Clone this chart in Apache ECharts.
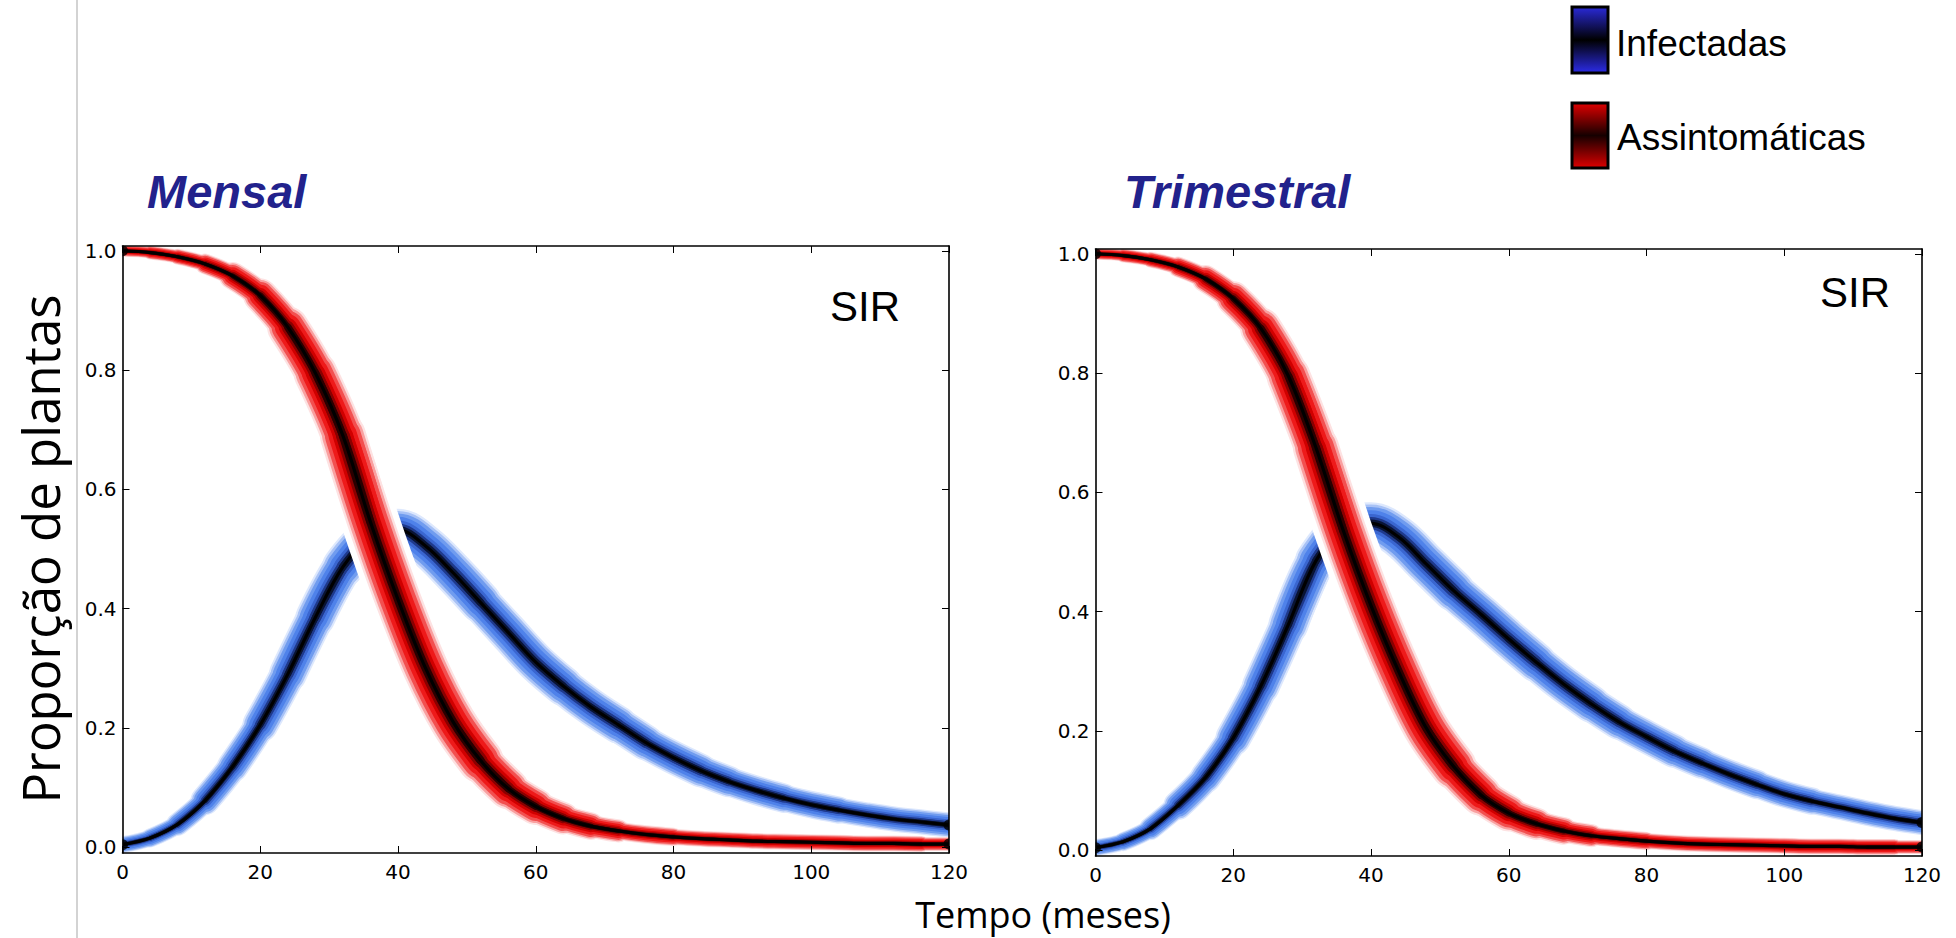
<!DOCTYPE html>
<html><head><meta charset="utf-8">
<script src="https://cdn.jsdelivr.net/npm/echarts@6/dist/echarts.min.js"></script>
<style>html,body{margin:0;padding:0;background:#fff;}#c{width:1956px;height:938px;}</style>
</head><body><div id="c"></div>
<script>
// ---- data ----
const months = [0,4,8,12,16,20,24,28,32,36,40,44,48,52,56,60,64,68,72,76,80,84,88,92,96,100,104,108,112,116,120];
const mensalInfectadas = [0.004,0.015,0.038,0.078,0.135,0.205,0.290,0.385,0.470,0.520,0.532,0.505,0.460,0.410,0.360,0.310,0.270,0.235,0.205,0.175,0.150,0.128,0.110,0.095,0.082,0.071,0.062,0.054,0.047,0.042,0.037];
const mensalAssintomaticas = [1.000,0.997,0.990,0.978,0.958,0.925,0.872,0.795,0.690,0.545,0.415,0.300,0.210,0.145,0.098,0.068,0.048,0.035,0.027,0.021,0.017,0.014,0.012,0.010,0.009,0.008,0.007,0.006,0.006,0.005,0.005];
const trimestralInfectadas = [0.004,0.014,0.036,0.075,0.122,0.188,0.275,0.378,0.485,0.540,0.548,0.525,0.480,0.435,0.395,0.354,0.315,0.278,0.245,0.215,0.190,0.166,0.146,0.127,0.110,0.094,0.082,0.072,0.062,0.053,0.046];
const trimestralAssintomaticas = [1.000,0.997,0.990,0.978,0.958,0.925,0.875,0.795,0.675,0.535,0.410,0.300,0.205,0.140,0.092,0.062,0.044,0.032,0.024,0.019,0.015,0.012,0.010,0.009,0.008,0.007,0.006,0.006,0.005,0.005,0.005];
const yTicks = [0, 0.2, 0.4, 0.6, 0.8, 1.0];
const xTickStep = 20;
const panelTitles = ['Mensal', 'Trimestral'];
const modelLabel = 'SIR';
const legendNames = ['Infectadas', 'Assintomáticas'];
const yAxisTitle = 'Proporção de plantas';
const xAxisTitle = 'Tempo (meses)';

// ---- layout / style ----
const grids = [
  {left: 122.5, top: 246, width: 826.5, height: 607},
  {left: 1095.5, top: 249, width: 826.5, height: 607}
];
const Y_MIN = -0.01, Y_MAX = 1.008;
// band thickness profile along x (style only): [x, factor]
const blueProfile = [[0, 0.3], [8, 0.45], [16, 0.68], [24, 0.85], [36, 1.0], [60, 0.95], [72, 0.85], [84, 0.75], [100, 0.64], [120, 0.56]];
const redProfile  = [[0, 0.24], [8, 0.28], [16, 0.45], [24, 0.75], [30, 0.95], [36, 1.0], [48, 1.0], [56, 0.8], [64, 0.58], [72, 0.42], [84, 0.35], [120, 0.32]];
const BLUE_W = 42, RED_W = 46;
const blueLayers = [[1.00,'#dde8fd'],[0.90,'#a8c2f6'],[0.78,'#709cef'],[0.62,'#4f82ea'],[0.44,'#3a66d0'],[0.30,'#1f3a8c'],[0.18,'#0a1434']];
const redLayers  = [[1.00,'#fde2e2'],[0.90,'#f9a0a0'],[0.78,'#f25050'],[0.62,'#ee1a1a'],[0.44,'#d00000'],[0.30,'#8a0000'],[0.18,'#2a0000']];

const chart = echarts.init(document.getElementById('c'), null, {renderer: 'svg'});

const tickFont = {fontFamily: '"DejaVu Sans", sans-serif', fontSize: 20, color: '#000'};
const xAxes = [], yAxes = [], series = [];
grids.forEach((g, i) => {
  xAxes.push({type: 'value', gridIndex: i, min: 0, max: 120, interval: xTickStep, position: 'bottom', z: 10,
    axisLine: {show: true, onZero: false, lineStyle: {color: '#000', width: 1.6}},
    axisTick: {show: true, inside: true, length: 7, lineStyle: {color: '#000', width: 1}},
    axisLabel: Object.assign({margin: 9, formatter: v => String(v)}, tickFont),
    splitLine: {show: false}});
  xAxes.push({type: 'value', gridIndex: i, min: 0, max: 120, interval: xTickStep, position: 'top', z: 10,
    axisLine: {show: true, onZero: false, lineStyle: {color: '#000', width: 1.6}},
    axisTick: {show: true, inside: true, length: 7, lineStyle: {color: '#000', width: 1}},
    axisLabel: {show: false}, splitLine: {show: false}});
  yAxes.push({type: 'value', gridIndex: i, min: Y_MIN, max: Y_MAX, position: 'left', z: 10,
    axisLine: {show: true, onZero: false, lineStyle: {color: '#000', width: 1.6}},
    axisTick: {show: true, inside: true, length: 7, customValues: yTicks, lineStyle: {color: '#000', width: 1}},
    axisLabel: Object.assign({margin: 6, customValues: yTicks, formatter: v => Number(v).toFixed(1)}, tickFont),
    splitLine: {show: false}});
  yAxes.push({type: 'value', gridIndex: i, min: Y_MIN, max: Y_MAX, position: 'right', z: 10,
    axisLine: {show: true, onZero: false, lineStyle: {color: '#000', width: 1.6}},
    axisTick: {show: true, inside: true, length: 7, customValues: yTicks, lineStyle: {color: '#000', width: 1}},
    axisLabel: {show: false}, splitLine: {show: false}});
});

function lineSeries(i, data, width, color, name) {
  return {type: 'line', name, xAxisIndex: 2 * i, yAxisIndex: 2 * i, data, showSymbol: false, symbol: 'none',
    smooth: 0.35, silent: true, animation: false, clip: true, z: 2,
    lineStyle: {width, color, cap: 'round', join: 'round'}};
}
function profileAt(profile, x) {
  for (let k = 0; k < profile.length - 1; k++) {
    const [x0, f0] = profile[k], [x1, f1] = profile[k + 1];
    if (x >= x0 && x <= x1) return f0 + (f1 - f0) * (x - x0) / (x1 - x0);
  }
  return profile[profile.length - 1][1];
}
function addCurve(i, values, layers, baseW, profile, name) {
  const data = months.map((m, k) => [m, values[k]]);
  const fac = months.map(m => Math.round(profileAt(profile, m) * 20) / 20);
  const runs = [];
  let a = 0;
  for (let k = 1; k <= months.length; k++) {
    if (k === months.length || fac[k] !== fac[a]) { runs.push([a, k - 1, fac[a]]); a = k; }
  }
  layers.forEach(([frac, c]) => {
    runs.forEach(([s, e, f]) => {
      const seg = data.slice(Math.max(0, s - 1), Math.min(data.length, e + 2));
      series.push(lineSeries(i, seg, Math.max(3, baseW * f * frac), c));
    });
  });
  series.push(lineSeries(i, data, 3.2, '#000000', name));
  // end markers (first and last simulated points)
  series.push({type: 'scatter', xAxisIndex: 2 * i, yAxisIndex: 2 * i, silent: true, animation: false, z: 3,
    symbol: 'circle', symbolSize: 11, itemStyle: {color: '#000'},
    data: [data[0], data[data.length - 1]]});
}
function addHalo(i, values) {
  const data = months.map((m, k) => [m, values[k]]).filter(p => p[0] >= 20 && p[0] <= 56);
  series.push(lineSeries(i, data, RED_W + 12, '#ffffff'));
}
const panelData = [[mensalInfectadas, mensalAssintomaticas], [trimestralInfectadas, trimestralAssintomaticas]];
panelData.forEach(([inf, asy], i) => {
  addCurve(i, inf, blueLayers, BLUE_W, blueProfile, legendNames[0]);
  addHalo(i, asy);
  addCurve(i, asy, redLayers, RED_W, redProfile, legendNames[1]);
});

// white masks just outside each plot frame so thick strokes stay inside the axes box
const masks = [];
grids.forEach(g => {
  const m = 30, r = g.left + g.width, b = g.top + g.height;
  [[g.left - m, g.top - m, m, g.height + 2 * m], [r, g.top - m, m, g.height + 2 * m],
   [g.left - m, g.top - m, g.width + 2 * m, m], [g.left - m, b, g.width + 2 * m, m]].forEach(([x, y, w, h]) => {
    masks.push({type: 'rect', z: 5, silent: true, shape: {x, y, width: w, height: h}, style: {fill: '#ffffff'}});
  });
});

const titleColor = '#22228c';
const txt = (x, y, text, font, align, fill, extra) => Object.assign({type: 'text', x, y, z: 20,
  style: {text, font, fill: fill || '#000', textAlign: align, align, textVerticalAlign: 'middle', verticalAlign: 'middle'}}, extra || {});
const graphic = masks.concat([
  {type: 'line', shape: {x1: 77, y1: 0, x2: 77, y2: 938}, style: {stroke: '#c4c4c4', lineWidth: 1.5}, z: 1},
  txt(147, 191, panelTitles[0], 'italic bold 47px "Liberation Sans", Arial, sans-serif', 'left', titleColor),
  txt(1124, 191, panelTitles[1], 'italic bold 47px "Liberation Sans", Arial, sans-serif', 'left', titleColor),
  txt(830, 306, modelLabel, '42px "Liberation Sans", Arial, sans-serif', 'left'),
  txt(1820, 292, modelLabel, '42px "Liberation Sans", Arial, sans-serif', 'left'),
  txt(40, 549, yAxisTitle, '51px "Open Sans", "Noto Sans", sans-serif', 'center', '#000', {rotation: Math.PI / 2}),
  txt(1043, 914, xAxisTitle, '36px "Open Sans", "Noto Sans", sans-serif', 'center'),
  // legend
  {type: 'rect', z: 20, shape: {x: 1572, y: 7, width: 36, height: 66}, style: {
    fill: new echarts.graphic.LinearGradient(0, 0, 0, 1, [{offset: 0, color: '#2a2ad8'}, {offset: 0.5, color: '#000000'}, {offset: 1, color: '#2c2ce8'}]),
    stroke: '#000', lineWidth: 3}},
  txt(1616, 43, legendNames[0], '37px "Liberation Sans", Arial, sans-serif', 'left'),
  {type: 'rect', z: 20, shape: {x: 1572, y: 103, width: 36, height: 65}, style: {
    fill: new echarts.graphic.LinearGradient(0, 0, 0, 1, [{offset: 0, color: '#e00000'}, {offset: 0.5, color: '#160000'}, {offset: 1, color: '#dd0000'}]),
    stroke: '#000', lineWidth: 3}},
  txt(1617, 137, legendNames[1], '37px "Liberation Sans", Arial, sans-serif', 'left')
]);

chart.setOption({
  animation: false,
  backgroundColor: '#ffffff',
  grid: grids.map(g => Object.assign({containLabel: false}, g)),
  xAxis: xAxes,
  yAxis: yAxes,
  series,
  graphic
});
</script></body></html>
